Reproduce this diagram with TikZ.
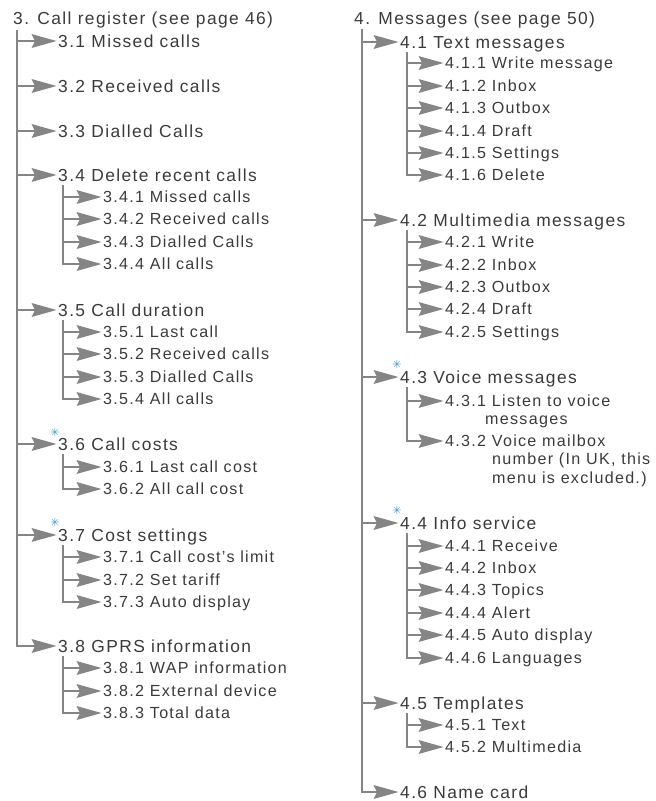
\documentclass[tikz,border=0pt]{standalone}
\usepackage{fontspec}
\setmainfont{Liberation Sans}[LetterSpace=8]
\newfontfamily\starfont{DejaVu Sans}
\definecolor{txt}{HTML}{3A3A3A}
\definecolor{ln}{HTML}{858585}
\definecolor{starblue}{HTML}{3C9AD6}
\tikzset{
  lvlone/.style={anchor=west, inner sep=0pt, text height=12.4pt, text depth=0pt,
    font=\fontsize{17.4}{19}\selectfont, text=txt},
  lvltwo/.style={anchor=west, inner sep=0pt, text height=11.6pt, text depth=0pt,
    font=\fontsize{16.1}{18}\selectfont, text=txt},
  shaft/.style={draw=ln, line width=2.6pt},
  tiphead/.style={fill=ln, draw=none},
  starmark/.style={inner sep=0pt, text=starblue, font=\starfont\fontsize{11}{11}\selectfont}
}
% arrow head drawn at the west side of a node
\newcommand\headat[1]{\fill[tiphead] ([xshift=-1.5pt]#1.west) -- ++(-25pt,7pt) -- ++(3.5pt,-7pt) -- ++(-3.5pt,-7pt) -- cycle;}
\begin{document}
\begin{tikzpicture}[x=1pt,y=-1pt]
\useasboundingbox (0,0) rectangle (656,801);

% ---------------- Left column ----------------
\node[lvlone] (t3) at (13,18) {3. Call register (see page 46)};
\coordinate (m3) at (17,30);

\node[lvlone] (n31) at (58,41) {3.1 Missed calls};
\node[lvlone] (n32) at (58,86) {3.2 Received calls};
\node[lvlone] (n33) at (58,131) {3.3 Dialled Calls};
\node[lvlone] (n34) at (58,175) {3.4 Delete recent calls};
\node[lvltwo] (n341) at (103,197) {3.4.1 Missed calls};
\node[lvltwo] (n342) at (103,219) {3.4.2 Received calls};
\node[lvltwo] (n343) at (103,242) {3.4.3 Dialled Calls};
\node[lvltwo] (n344) at (103,264) {3.4.4 All calls};
\node[lvlone] (n35) at (58,310) {3.5 Call duration};
\node[lvltwo] (n351) at (103,332) {3.5.1 Last call};
\node[lvltwo] (n352) at (103,354) {3.5.2 Received calls};
\node[lvltwo] (n353) at (103,377) {3.5.3 Dialled Calls};
\node[lvltwo] (n354) at (103,399) {3.5.4 All calls};
\node[lvlone] (n36) at (58,444) {3.6 Call costs};
\node[lvltwo] (n361) at (103,467) {3.6.1 Last call cost};
\node[lvltwo] (n362) at (103,489) {3.6.2 All call cost};
\node[lvlone] (n37) at (58,535) {3.7 Cost settings};
\node[lvltwo] (n371) at (103,557) {3.7.1 Call cost's limit};
\node[lvltwo] (n372) at (103,580) {3.7.2 Set tariff};
\node[lvltwo] (n373) at (103,602) {3.7.3 Auto display};
\node[lvlone] (n38) at (58,646) {3.8 GPRS information};
\node[lvltwo] (n381) at (103,668) {3.8.1 WAP information};
\node[lvltwo] (n382) at (103,691) {3.8.2 External device};
\node[lvltwo] (n383) at (103,713) {3.8.3 Total data};

\node[starmark] (s36) at (55,432) {✳};
\node[starmark] (s37) at (55,522) {✳};

\coordinate (k34) at (63,185);
\coordinate (k35) at (63,320);
\coordinate (k36) at (63,454);
\coordinate (k37) at (63,545);
\coordinate (k38) at (63,656);

\foreach \n in {n31,n32,n33,n34,n35,n36,n37}
  \draw[shaft] (\n.west -| m3) -- ([xshift=-6pt]\n.west);
\draw[shaft] (m3) |- ([xshift=-6pt]n38.west);

\foreach \n in {n341,n342,n343} \draw[shaft] (\n.west -| k34) -- ([xshift=-6pt]\n.west);
\draw[shaft] (k34) |- ([xshift=-6pt]n344.west);
\foreach \n in {n351,n352,n353} \draw[shaft] (\n.west -| k35) -- ([xshift=-6pt]\n.west);
\draw[shaft] (k35) |- ([xshift=-6pt]n354.west);
\draw[shaft] (n361.west -| k36) -- ([xshift=-6pt]n361.west);
\draw[shaft] (k36) |- ([xshift=-6pt]n362.west);
\foreach \n in {n371,n372} \draw[shaft] (\n.west -| k37) -- ([xshift=-6pt]\n.west);
\draw[shaft] (k37) |- ([xshift=-6pt]n373.west);
\foreach \n in {n381,n382} \draw[shaft] (\n.west -| k38) -- ([xshift=-6pt]\n.west);
\draw[shaft] (k38) |- ([xshift=-6pt]n383.west);

\foreach \n in {n31,n32,n33,n34,n35,n36,n37,n38,
  n341,n342,n343,n344,n351,n352,n353,n354,n361,n362,
  n371,n372,n373,n381,n382,n383} {\headat{\n}}

% ---------------- Right column ----------------
\node[lvlone] (t4) at (354,18) {4. Messages (see page 50)};
\coordinate (m4) at (362,29);

\node[lvlone] (n41) at (400,42) {4.1 Text messages};
\node[lvltwo] (n411) at (445,63) {4.1.1 Write message};
\node[lvltwo] (n412) at (445,86) {4.1.2 Inbox};
\node[lvltwo] (n413) at (445,108) {4.1.3 Outbox};
\node[lvltwo] (n414) at (445,131) {4.1.4 Draft};
\node[lvltwo] (n415) at (445,153) {4.1.5 Settings};
\node[lvltwo] (n416) at (445,175) {4.1.6 Delete};
\node[lvlone] (n42) at (400,220) {4.2 Multimedia messages};
\node[lvltwo] (n421) at (445,242) {4.2.1 Write};
\node[lvltwo] (n422) at (445,265) {4.2.2 Inbox};
\node[lvltwo] (n423) at (445,287) {4.2.3 Outbox};
\node[lvltwo] (n424) at (445,309) {4.2.4 Draft};
\node[lvltwo] (n425) at (445,332) {4.2.5 Settings};
\node[lvlone] (n43) at (400,377) {4.3 Voice messages};
\node[lvltwo] (n431) at (445,401) {4.3.1 Listen to voice};
\node[lvltwo] (n431b) at (485,419) {messages};
\node[lvltwo] (n432) at (445,441) {4.3.2 Voice mailbox};
\node[lvltwo] (n432b) at (492,459) {number (In UK, this};
\node[lvltwo] (n432c) at (492,478) {menu is excluded.)};
\node[lvlone] (n44) at (400,523) {4.4 Info service};
\node[lvltwo] (n441) at (445,546) {4.4.1 Receive};
\node[lvltwo] (n442) at (445,568) {4.4.2 Inbox};
\node[lvltwo] (n443) at (445,590) {4.4.3 Topics};
\node[lvltwo] (n444) at (445,613) {4.4.4 Alert};
\node[lvltwo] (n445) at (445,635) {4.4.5 Auto display};
\node[lvltwo] (n446) at (445,658) {4.4.6 Languages};
\node[lvlone] (n45) at (400,703) {4.5 Templates};
\node[lvltwo] (n451) at (445,725) {4.5.1 Text};
\node[lvltwo] (n452) at (445,747) {4.5.2 Multimedia};
\node[lvlone] (n46) at (400,792) {4.6 Name card};

\node[starmark] (s43) at (397,364) {✳};
\node[starmark] (s44) at (397,510) {✳};

\coordinate (k41) at (407,52);
\coordinate (k42) at (407,230);
\coordinate (k43) at (407,387);
\coordinate (k44) at (407,533);
\coordinate (k45) at (407,713);

\foreach \n in {n41,n42,n43,n44,n45}
  \draw[shaft] (\n.west -| m4) -- ([xshift=-6pt]\n.west);
\draw[shaft] (m4) |- ([xshift=-6pt]n46.west);

\foreach \n in {n411,n412,n413,n414,n415} \draw[shaft] (\n.west -| k41) -- ([xshift=-6pt]\n.west);
\draw[shaft] (k41) |- ([xshift=-6pt]n416.west);
\foreach \n in {n421,n422,n423,n424} \draw[shaft] (\n.west -| k42) -- ([xshift=-6pt]\n.west);
\draw[shaft] (k42) |- ([xshift=-6pt]n425.west);
\draw[shaft] (n431.west -| k43) -- ([xshift=-6pt]n431.west);
\draw[shaft] (k43) |- ([xshift=-6pt]n432.west);
\foreach \n in {n441,n442,n443,n444,n445} \draw[shaft] (\n.west -| k44) -- ([xshift=-6pt]\n.west);
\draw[shaft] (k44) |- ([xshift=-6pt]n446.west);
\draw[shaft] (n451.west -| k45) -- ([xshift=-6pt]n451.west);
\draw[shaft] (k45) |- ([xshift=-6pt]n452.west);

\foreach \n in {n41,n42,n43,n44,n45,n46,
  n411,n412,n413,n414,n415,n416,n421,n422,n423,n424,n425,
  n431,n432,n441,n442,n443,n444,n445,n446,n451,n452} {\headat{\n}}
\end{tikzpicture}
\end{document}
